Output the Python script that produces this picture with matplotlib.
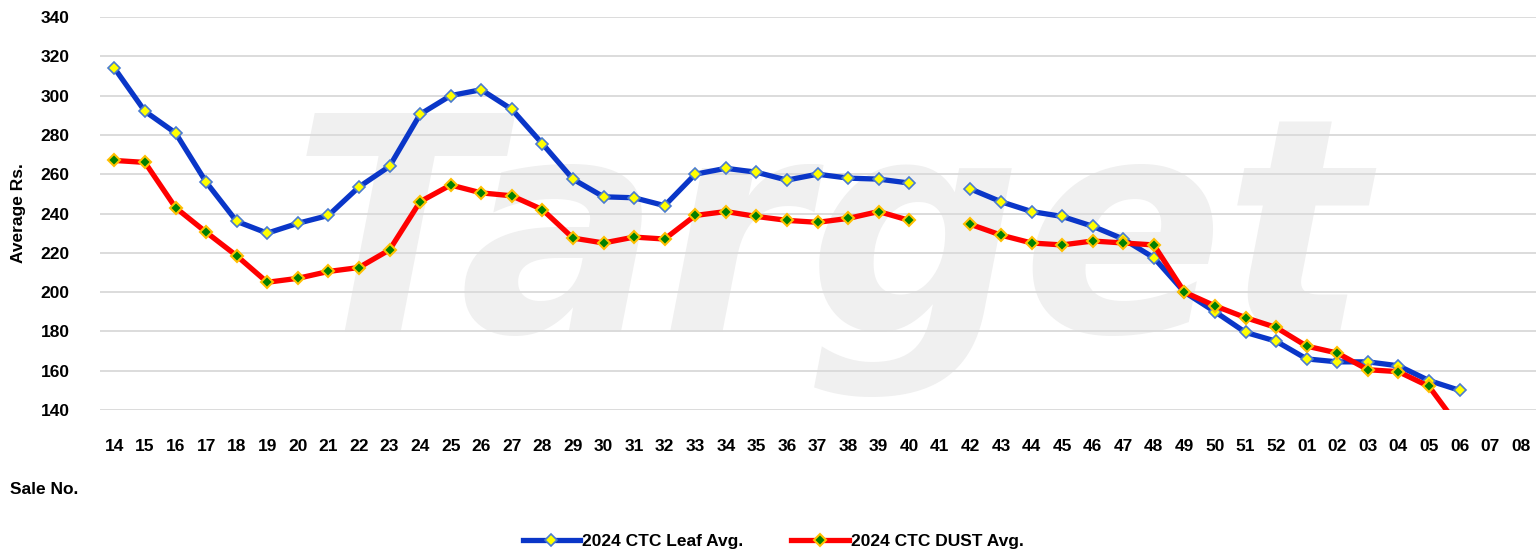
import matplotlib
matplotlib.use("Agg")
import matplotlib.pyplot as plt
import numpy as np

sale_no = ["14","15","16","17","18","19","20","21","22","23","24","25","26","27","28","29","30",
           "31","32","33","34","35","36","37","38","39","40","41","42","43","44","45","46","47",
           "48","49","50","51","52","01","02","03","04","05","06","07","08"]

leaf_avg = [314, 292, 281, 256, 236, 230, 235, 239, 253.5, 264, 290.5, 300, 303, 293, 275.5,
            257.5, 248.5, 248, 244, 260, 263, 261, 257, 260, 258, 257.5, 255.5, None,
            252.5, 246, 241, 238.5, 233.5, 227, 217.5, 200, 190, 179.5, 175, 166, 164.5,
            164.5, 162.5, 155, 150, None, None]

dust_avg = [267, 266, 243, 230.5, 218.5, 205, 207, 210.5, 212.5, 221.5, 246, 254.5, 250.5,
            249, 242, 227.5, 225, 228, 227, 239, 241, 238.5, 236.5, 235.5, 237.5, 241, 236.5,
            None, 234.5, 229, 225, 224, 226, 225, 224, 200, 193, 187, 182, 172.5, 169, 160.5,
            159.5, 152, 131, None, None]

y_ticks = [140, 160, 180, 200, 220, 240, 260, 280, 300, 320, 340]

W, H = 1537, 553
fig = plt.figure(figsize=(W/100, H/100), dpi=100)
fig.patch.set_facecolor("white")

# faint watermark, behind everything
fig.text(0.19, 0.40, "Target", fontsize=215, fontweight="bold", style="italic",
         color="#F0F0F0", family="DejaVu Sans", zorder=-10, ha="left", va="baseline")

ax = fig.add_axes([100/W, 1-410/H, 1436/W, 393/H])
ax.patch.set_alpha(0)

x = np.arange(len(sale_no))
leaf = np.array([np.nan if v is None else v for v in leaf_avg], dtype=float)
dust = np.array([np.nan if v is None else v for v in dust_avg], dtype=float)

ax.plot(x, leaf, color="#0A36C8", lw=3.8, marker="D", ms=6.5, mfc="#FFFF00",
        mec="#4A7BD0", mew=1.2, label="2024 CTC Leaf Avg.", zorder=3, solid_joinstyle="round")
ax.plot(x, dust, color="#FF0000", lw=3.8, marker="D", ms=6.5, mfc="#008000",
        mec="#FFC000", mew=1.5, label="2024 CTC DUST Avg.", zorder=4, solid_joinstyle="round")

ax.set_xlim(-0.47, len(sale_no) - 0.5)
ax.set_ylim(140, 340)
ax.set_yticks(y_ticks)
ax.set_xticks(x)
ax.set_xticklabels(sale_no)
ax.grid(axis="y", color="#D9D9D9", lw=1.3, zorder=0)
ax.set_axisbelow(True)
for s in ax.spines.values():
    s.set_visible(False)
ax.tick_params(axis="both", length=0, labelsize=12.5)
ax.tick_params(axis="x", pad=21)
ax.tick_params(axis="y", pad=22)
for lab in ax.get_xticklabels() + ax.get_yticklabels():
    lab.set_fontweight("bold")
    lab.set_family("Liberation Sans")

ax.set_ylabel("Average Rs.", fontsize=12.5, fontweight="bold", family="Liberation Sans", labelpad=10)
fig.text(10/W, 1-490/H, "Sale No.", fontsize=12.5, fontweight="bold", family="Liberation Sans",
         ha="left", va="center")

leg = fig.legend(loc="center", bbox_to_anchor=(773/W, 1-541/H), ncol=2, frameon=False,
                 prop={"family": "Liberation Sans", "weight": "bold", "size": 12.5},
                 handlelength=3.3, columnspacing=2.8, handletextpad=0.1)

fig.savefig("out.png", dpi=100)
